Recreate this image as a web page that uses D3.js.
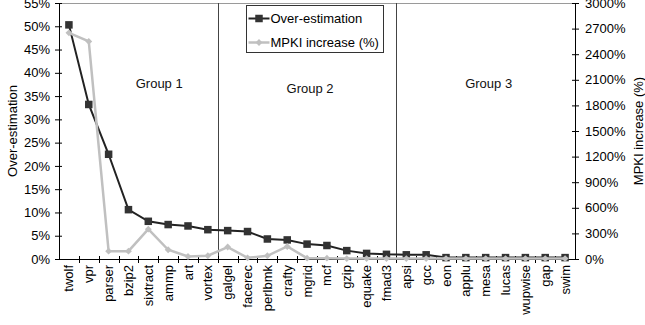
<!DOCTYPE html>
<html>
<head>
<meta charset="utf-8">
<script src="https://cdn.jsdelivr.net/npm/d3@7"></script>
<style>
  body { margin: 0; background: #fff; }
  svg { display: block; font-family: "Liberation Sans", Arial, sans-serif; }
</style>
</head>
<body>
<div id="chart"></div>
<script>
// Benchmarks, ordered as in the figure.
const benchmarks = [ 'twolf', 'vpr', 'parser', 'bzip2', 'sixtract', 'ammp', 'art', 'vortex',
  'galgel', 'facerec', 'perlbmk', 'crafty', 'mgrid', 'mcf', 'gzip', 'equake', 'fmad3',
  'apsi', 'gcc', 'eon', 'applu', 'mesa', 'lucas', 'wupwise', 'gap', 'swim' ];

// Over-estimation (%), left axis.
const over_estimation = [ 50.3, 33.2, 22.5, 10.6, 8.1, 7.4, 7.1, 6.3,
  6.1, 5.9, 4.3, 4.1, 3.2, 2.9, 1.8, 1.2, 1.0,
  0.9, 0.9, 0.3, 0.3, 0.3, 0.3, 0.3, 0.3, 0.3 ];

// MPKI increase (%), right axis.
const mpki_increase = [ 2650, 2550, 92, 92, 350, 108, 29, 38,
  140, 14, 38, 147, 10, 10, 5, 5, 5,
  5, 5, 5, 5, 5, 5, 5, 5, 5 ];

// Groups: first benchmark index of each, and where the label sits
// (in benchmark slots from the left edge).
const group_names = [ 'Group 1', 'Group 2', 'Group 3' ];
const group_starts = [ 0, 8, 17 ];
const group_label_slot = [ 5.05, 12.65, 21.65 ];

const left_ticks = d3.range( 0, 56, 5 );
const right_ticks = d3.range( 0, 3001, 300 );

const width = 645, height = 325;
const margin = { left: 59, right: 70, top: 3, bottom: 66 };
const plot_width = width - margin.left - margin.right;
const plot_height = height - margin.top - margin.bottom;

const dark = '#333333';
const light = '#c0c0c0';

const svg = d3.select( '#chart' ).append( 'svg' )
  .attr( 'width', width )
  .attr( 'height', height );

const g = svg.append( 'g' )
  .attr( 'transform', 'translate(' + margin.left + ',' + margin.top + ')' );

const x = d3.scaleBand()
  .domain( benchmarks )
  .range( [ 0, plot_width ] );
const y_left = d3.scaleLinear()
  .domain( [ 0, 55 ] )
  .range( [ plot_height, 0 ] );
const y_right = d3.scaleLinear()
  .domain( [ 0, 3000 ] )
  .range( [ plot_height, 0 ] );

const cx = function( d ){ return x( d ) + x.bandwidth() / 2; };

// Top border of the plot.
g.append( 'line' )
  .attr( 'x1', 0 ).attr( 'x2', plot_width )
  .attr( 'y1', 0.5 ).attr( 'y2', 0.5 )
  .attr( 'stroke', '#9a9a9a' );

// Group separators.
g.selectAll( '.sep' )
  .data( group_starts.slice( 1 ) )
  .enter().append( 'line' )
    .attr( 'x1', function( i ){ return Math.round( x( benchmarks[ i ] ) ) + 0.5; } )
    .attr( 'x2', function( i ){ return Math.round( x( benchmarks[ i ] ) ) + 0.5; } )
    .attr( 'y1', 0 ).attr( 'y2', plot_height )
    .attr( 'stroke', '#444' );

// Group labels.
const group_label_y = [ 85, 90, 85 ];
g.selectAll( '.group' )
  .data( group_names )
  .enter().append( 'text' )
    .attr( 'x', function( d, i ){ return group_label_slot[ i ] * x.step(); } )
    .attr( 'y', function( d, i ){ return group_label_y[ i ]; } )
    .attr( 'text-anchor', 'middle' )
    .attr( 'font-size', 13 )
    .attr( 'fill', '#111' )
    .text( function( d ){ return d; } );

// Left axis.
const left_axis = g.append( 'g' )
  .call( d3.axisLeft( y_left )
    .tickValues( left_ticks )
    .tickSize( 4 )
    .tickPadding( 5 )
    .tickFormat( function( d ){ return d + '%'; } ) );
left_axis.selectAll( '.tick line' ).attr( 'x2', -4 ).attr( 'x1', 3 );

// Right axis.
const right_axis = g.append( 'g' )
  .attr( 'transform', 'translate(' + plot_width + ',0)' )
  .call( d3.axisRight( y_right )
    .tickValues( right_ticks )
    .tickSize( 4 )
    .tickPadding( 6 )
    .tickFormat( function( d ){ return d + '%'; } ) );
right_axis.selectAll( '.tick line' ).attr( 'x1', -3 ).attr( 'x2', 4 );

// Bottom axis, ticks between benchmarks.
const bottom_axis = g.append( 'g' )
  .attr( 'transform', 'translate(0,' + plot_height + ')' )
  .call( d3.axisBottom( x ).tickSize( 0 ).tickPadding( 6 ) );
bottom_axis.select( '.domain' ).attr( 'd', 'M-2,0.5H' + plot_width );
bottom_axis.selectAll( '.bound' )
  .data( benchmarks.slice( 1 ) )
  .enter().append( 'line' )
    .attr( 'x1', function( d ){ return Math.round( x( d ) ) + 0.5; } )
    .attr( 'x2', function( d ){ return Math.round( x( d ) ) + 0.5; } )
    .attr( 'y1', -3 ).attr( 'y2', 4 )
    .attr( 'stroke', '#000' );
bottom_axis.selectAll( '.tick text' )
  .attr( 'transform', 'rotate(-90)' )
  .attr( 'text-anchor', 'end' )
  .attr( 'x', -6 )
  .attr( 'y', 0 )
  .attr( 'dy', '0.35em' );

// d3 axes set their own font-family; drop it so the svg font is used.
[ left_axis, right_axis, bottom_axis ].forEach( function( a ){
  a.attr( 'font-family', null ).attr( 'font-size', 13 );
  a.selectAll( 'text' ).attr( 'fill', '#000' );
  a.selectAll( 'line' ).attr( 'stroke', '#000' );
  a.select( '.domain' ).attr( 'stroke', '#000' );
} );

// Axis titles.
svg.append( 'text' )
  .attr( 'transform', 'translate(17,' + ( margin.top + plot_height / 2 ) + ') rotate(-90)' )
  .attr( 'text-anchor', 'middle' )
  .attr( 'font-size', 13 )
  .text( 'Over-estimation' );
svg.append( 'text' )
  .attr( 'transform', 'translate(643,' + ( margin.top + plot_height / 2 ) + ') rotate(-90)' )
  .attr( 'text-anchor', 'middle' )
  .attr( 'font-size', 13 )
  .text( 'MPKI increase (%)' );

// Series.
const dark_line = d3.line()
  .x( function( d, i ){ return cx( benchmarks[ i ] ); } )
  .y( function( d ){ return y_left( d ); } );
const light_line = d3.line()
  .x( function( d, i ){ return cx( benchmarks[ i ] ); } )
  .y( function( d ){ return y_right( d ); } );

g.append( 'path' )
  .attr( 'd', dark_line( over_estimation ) )
  .attr( 'fill', 'none' )
  .attr( 'stroke', '#222' )
  .attr( 'stroke-width', 2 );
g.selectAll( '.sq' )
  .data( over_estimation )
  .enter().append( 'rect' )
    .attr( 'x', function( d, i ){ return cx( benchmarks[ i ] ) - 3.75; } )
    .attr( 'y', function( d ){ return y_left( d ) - 3.75; } )
    .attr( 'width', 7.5 ).attr( 'height', 7.5 )
    .attr( 'fill', dark );

const diamond = d3.symbol().type( d3.symbolDiamond2 ).size( 30 );

g.append( 'path' )
  .attr( 'd', light_line( mpki_increase ) )
  .attr( 'fill', 'none' )
  .attr( 'stroke', light )
  .attr( 'stroke-width', 2.5 );
g.selectAll( '.dia' )
  .data( mpki_increase )
  .enter().append( 'path' )
    .attr( 'd', diamond )
    .attr( 'transform', function( d, i ){ return 'translate(' + cx( benchmarks[ i ] ) + ',' + y_right( d ) + ')'; } )
    .attr( 'fill', light );

// Legend.
const legend = svg.append( 'g' ).attr( 'transform', 'translate(246.5,5.5)' );
legend.append( 'rect' )
  .attr( 'width', 137 ).attr( 'height', 47 )
  .attr( 'fill', '#fff' ).attr( 'stroke', '#333' );
const legend_items = [
  { label: 'Over-estimation', color: '#222', y: 13 },
  { label: 'MPKI increase (%)', color: light, y: 37 }
];
legend_items.forEach( function( item, i ){
  legend.append( 'line' )
    .attr( 'x1', 2 ).attr( 'x2', 23 )
    .attr( 'y1', item.y ).attr( 'y2', item.y )
    .attr( 'stroke', item.color ).attr( 'stroke-width', i == 0 ? 2 : 2.5 );
  if( i == 0 ){
    legend.append( 'rect' )
      .attr( 'x', 8.75 ).attr( 'y', item.y - 3.75 )
      .attr( 'width', 7.5 ).attr( 'height', 7.5 )
      .attr( 'fill', dark );
  } else {
    legend.append( 'path' )
      .attr( 'd', diamond )
      .attr( 'transform', 'translate(12.5,' + item.y + ')' )
      .attr( 'fill', light );
  }
  legend.append( 'text' )
    .attr( 'x', 24 ).attr( 'y', item.y )
    .attr( 'dy', '0.35em' )
    .attr( 'font-size', 13 )
    .text( item.label );
} );
</script>
</body>
</html>
